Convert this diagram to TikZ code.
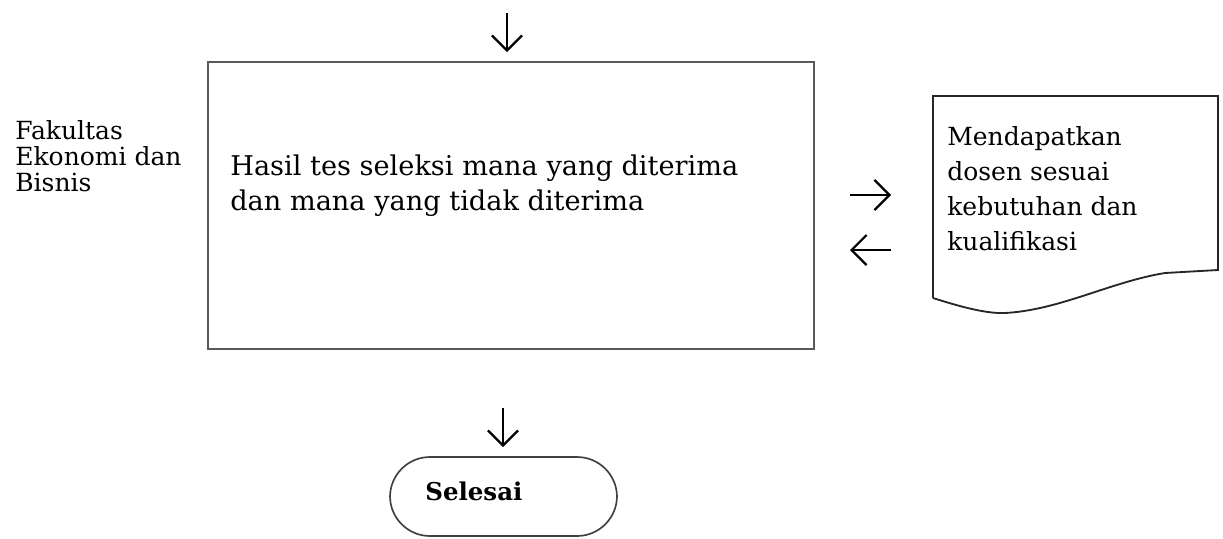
\documentclass[tikz,border=0pt]{standalone}
\usepackage{fontspec}
\setmainfont{DejaVu Serif}
\usetikzlibrary{arrows.meta}

\begin{document}
\begin{tikzpicture}[x=0.6pt, y=-0.6pt,
    flowarrow/.style={line width=1.3pt, -{Straight Barb[length=9pt, width=18pt, line width=1.3pt]}},
    txt/.style={inner sep=0pt, anchor=base west, align=left, font=\fontsize{16.3}{21}\selectfont}]

        % Fix the picture size
        \useasboundingbox (0,0) rectangle (1223,538);

        % Unit label on the left (anchor sits on the last line)
        \node[txt, font=\fontsize{15}{15.6}\selectfont] (unit) at (15,191) {Fakultas\\Ekonomi dan\\Bisnis};

        % Process box (selection results)
        \draw[line width=1.2pt, black!65] (208,62) rectangle (814,349);
        \node[txt] (hasil) at (230,210) {Hasil tes seleksi mana yang diterima\\dan mana yang tidak diterima};

        % Document shape (output)
        \draw[line width=1.1pt, black!85] (933,298) -- (933,96) -- (1218,96) -- (1218,270) -- (1165,273)
            .. controls (1110,282) and (1060,310) .. (1005,313)
            .. controls (985,314) and (955,305) .. (933,298);
        \node[txt, font=\fontsize{15}{21}\selectfont] (dokumen) at (947,250) {Mendapatkan\\dosen sesuai\\kebutuhan dan\\kualifikasi};

        % Terminal
        \draw[line width=1pt, black!75, rounded corners=24pt] (390,457) rectangle (617,536);
        \node[txt, font=\fontsize{14.7}{16}\selectfont\bfseries] (selesai) at (425,500) {Selesai};

        % Loose arrows
        \coordinate (a1) at (507,13);  \coordinate (b1) at (507,52);
        \coordinate (a2) at (850,195); \coordinate (b2) at (891,195);
        \coordinate (a3) at (891,250); \coordinate (b3) at (850,250);
        \coordinate (a4) at (503,408); \coordinate (b4) at (503,447);
        \draw[flowarrow] (a1) -- (b1);
        \draw[flowarrow] (a2) -- (b2);
        \draw[flowarrow] (a3) -- (b3);
        \draw[flowarrow] (a4) -- (b4);

\end{tikzpicture}
\end{document}
